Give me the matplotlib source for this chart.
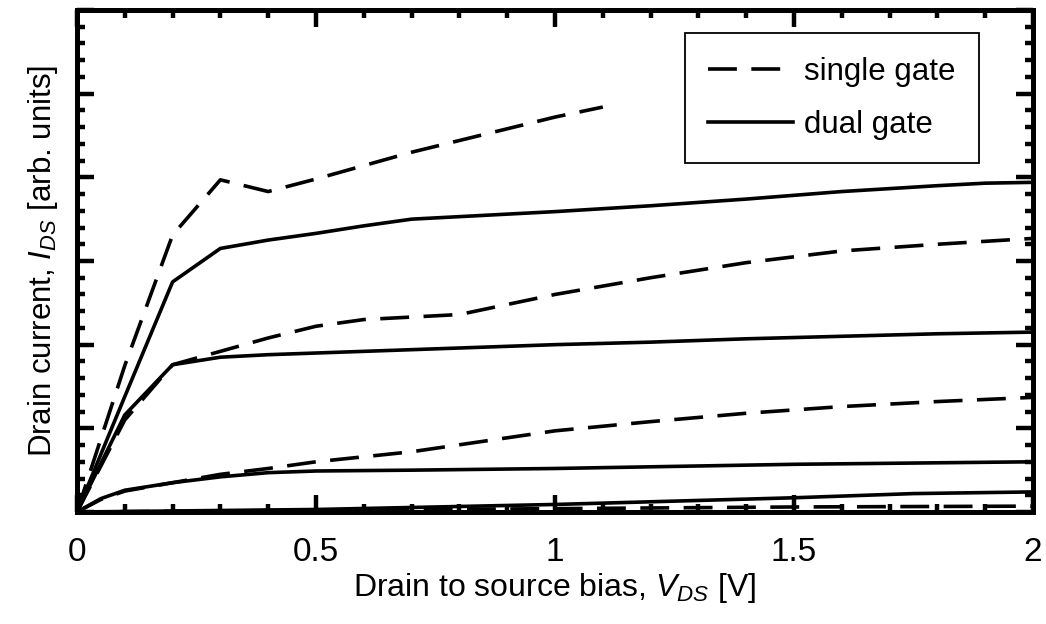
import numpy as np
import matplotlib
matplotlib.use('Agg')
import matplotlib.pyplot as plt
from matplotlib.ticker import MultipleLocator, FuncFormatter

plt.rcParams['font.family'] = ['Liberation Sans', 'DejaVu Sans']
plt.rcParams['mathtext.fontset'] = 'custom'
plt.rcParams['mathtext.rm'] = 'Liberation Sans'
plt.rcParams['mathtext.it'] = 'Liberation Sans:italic'

# single gate curves (dashed), V_DS in V, I_DS in arb. units
sg_high_x = [0, 0.1, 0.2, 0.3, 0.4, 0.5, 0.7, 0.9, 1.0, 1.1]
sg_high_y = [0, 1.75, 3.31, 3.97, 3.83, 3.98, 4.30, 4.58, 4.72, 4.84]
sg_mid_x = [0, 0.1, 0.2, 0.3, 0.4, 0.5, 0.6, 0.7, 0.8, 0.9, 1.0, 1.2, 1.4, 1.6, 1.8, 2.0]
sg_mid_y = [0, 1.1, 1.76, 1.92, 2.08, 2.22, 2.3, 2.33, 2.36, 2.48, 2.6, 2.8, 2.98, 3.12, 3.2, 3.27]
sg_low_x = [0, 0.05, 0.1, 0.2, 0.3, 0.4, 0.5, 0.7, 1.0, 1.2, 1.4, 1.6, 1.8, 2.0]
sg_low_y = [0, 0.15, 0.25, 0.35, 0.45, 0.52, 0.6, 0.72, 0.97, 1.08, 1.18, 1.26, 1.32, 1.37]
sg_off_x = [0, 0.5, 1.0, 1.5, 2.0]
sg_off_y = [0, 0.02, 0.04, 0.06, 0.07]

# dual gate curves (solid)
dg_high_x = [0, 0.1, 0.2, 0.3, 0.4, 0.5, 0.6, 0.7, 0.8, 1.0, 1.2, 1.4, 1.6, 1.8, 1.9, 2.0]
dg_high_y = [0, 1.38, 2.75, 3.15, 3.25, 3.33, 3.42, 3.5, 3.53, 3.59, 3.66, 3.74, 3.83, 3.9, 3.93, 3.94]
dg_mid_x = [0, 0.1, 0.2, 0.3, 0.4, 0.6, 0.8, 1.0, 1.2, 1.4, 1.6, 1.8, 2.0]
dg_mid_y = [0, 1.16, 1.76, 1.85, 1.88, 1.92, 1.96, 2.0, 2.03, 2.07, 2.1, 2.13, 2.15]
dg_low_x = [0, 0.05, 0.1, 0.2, 0.3, 0.4, 0.5, 0.7, 1.0, 1.5, 2.0]
dg_low_y = [0, 0.16, 0.26, 0.35, 0.42, 0.47, 0.49, 0.5, 0.52, 0.57, 0.6]
dg_off_x = [0, 0.5, 0.75, 1.0, 1.25, 1.5, 1.75, 2.0]
dg_off_y = [0, 0.03, 0.06, 0.09, 0.13, 0.17, 0.22, 0.24]

fig = plt.figure(figsize=(10.46, 6.24), dpi=100)
ax = fig.add_axes([0.0736, 0.1795, 0.914, 0.8045])

lw = 2.6
dash = (8, 4)
ax.plot(sg_high_x, sg_high_y, color='black', lw=lw, dashes=dash, label='single gate')
ax.plot(dg_high_x, dg_high_y, color='black', lw=lw, label='dual gate')
ax.plot(sg_mid_x, sg_mid_y, color='black', lw=lw, dashes=dash)
ax.plot(dg_mid_x, dg_mid_y, color='black', lw=lw)
ax.plot(sg_low_x, sg_low_y, color='black', lw=lw, dashes=dash)
ax.plot(dg_low_x, dg_low_y, color='black', lw=lw)
ax.plot(sg_off_x, sg_off_y, color='black', lw=lw, dashes=dash)
ax.plot(dg_off_x, dg_off_y, color='black', lw=lw)

ax.set_xlim(0, 2)
ax.set_ylim(0, 6)
ax.xaxis.set_major_locator(MultipleLocator(0.5))
ax.xaxis.set_minor_locator(MultipleLocator(0.1))
ax.yaxis.set_major_locator(MultipleLocator(1))
ax.yaxis.set_minor_locator(MultipleLocator(0.2))
ax.xaxis.set_major_formatter(FuncFormatter(lambda v, p: '%g' % v))
ax.set_yticklabels([])

ax.tick_params(which='both', direction='in', top=True, right=True, width=3.2)
ax.tick_params(which='major', length=12, labelsize=24, pad=18)
ax.tick_params(which='minor', length=6)
ax.tick_params(axis='y', which='both', labelleft=False)
for s in ax.spines.values():
    s.set_linewidth(3.6)

ax.set_xlabel(r'Drain to source bias, $V_{DS}$ [V]', fontsize=23, labelpad=2)
ax.set_ylabel(r'Drain current, $I_{DS}$ [arb. units]', fontsize=22.5, labelpad=12)

leg = ax.legend(loc='upper left', bbox_to_anchor=(0.636, 0.954), borderaxespad=0,
                fontsize=22.5, fancybox=False, edgecolor='black', framealpha=1,
                handlelength=2.7, handletextpad=0.35, labelspacing=0.75,
                borderpad=0.75)
leg.get_frame().set_linewidth(1.3)

fig.savefig('out.png', dpi=100)
